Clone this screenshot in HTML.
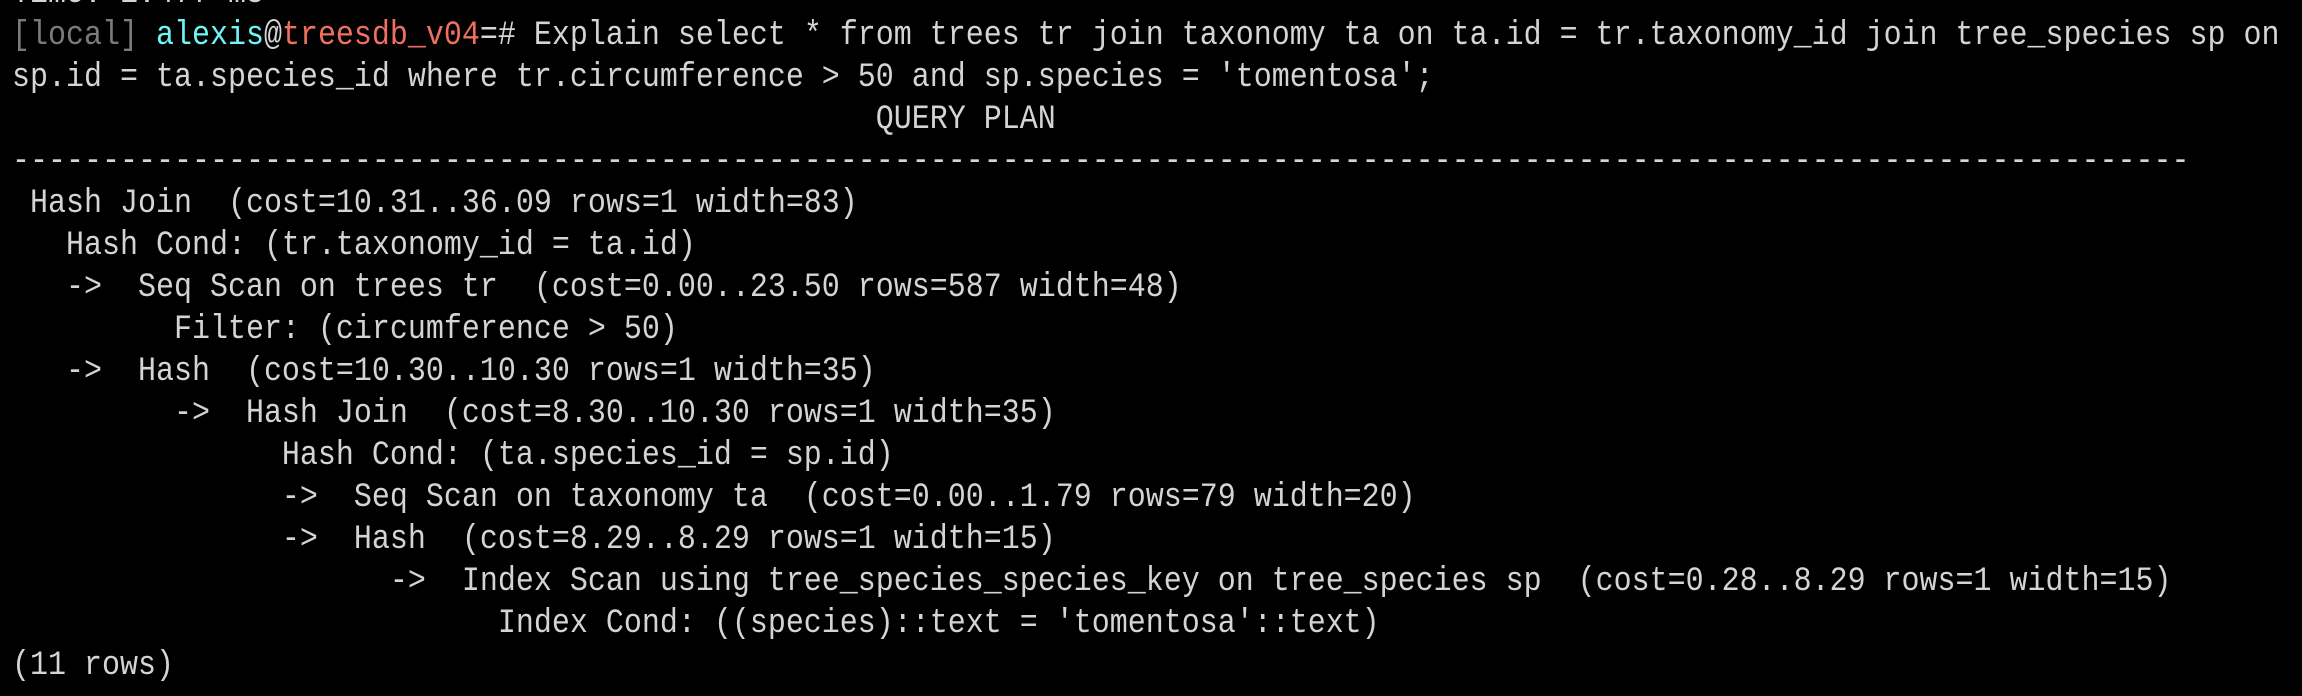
<!DOCTYPE html>
<html><head><meta charset="utf-8"><style>
html,body{margin:0;padding:0;background:#000;width:2302px;height:696px;overflow:hidden;}
pre{position:absolute;left:12px;top:-27px;margin:0;font-family:"Liberation Mono",monospace;font-size:34px;line-height:42px;color:#d4d4d4;white-space:pre;transform:scaleX(0.882);transform-origin:0 0;}
.g{color:#7a7a7a}.c{color:#6ef6f6}.r{color:#f0705f}
</style></head><body>
<pre>Time: 1.477 ms
<span class="g">[local]</span> <span class="c">alexis</span>@<span class="r">treesdb_v04</span>=# Explain select * from trees tr join taxonomy ta on ta.id = tr.taxonomy_id join tree_species sp on
sp.id = ta.species_id where tr.circumference &gt; 50 and sp.species = 'tomentosa';
                                                QUERY PLAN
-------------------------------------------------------------------------------------------------------------------------
 Hash Join  (cost=10.31..36.09 rows=1 width=83)
   Hash Cond: (tr.taxonomy_id = ta.id)
   -&gt;  Seq Scan on trees tr  (cost=0.00..23.50 rows=587 width=48)
         Filter: (circumference &gt; 50)
   -&gt;  Hash  (cost=10.30..10.30 rows=1 width=35)
         -&gt;  Hash Join  (cost=8.30..10.30 rows=1 width=35)
               Hash Cond: (ta.species_id = sp.id)
               -&gt;  Seq Scan on taxonomy ta  (cost=0.00..1.79 rows=79 width=20)
               -&gt;  Hash  (cost=8.29..8.29 rows=1 width=15)
                     -&gt;  Index Scan using tree_species_species_key on tree_species sp  (cost=0.28..8.29 rows=1 width=15)
                           Index Cond: ((species)::text = 'tomentosa'::text)
(11 rows)
</pre>
</body></html>
